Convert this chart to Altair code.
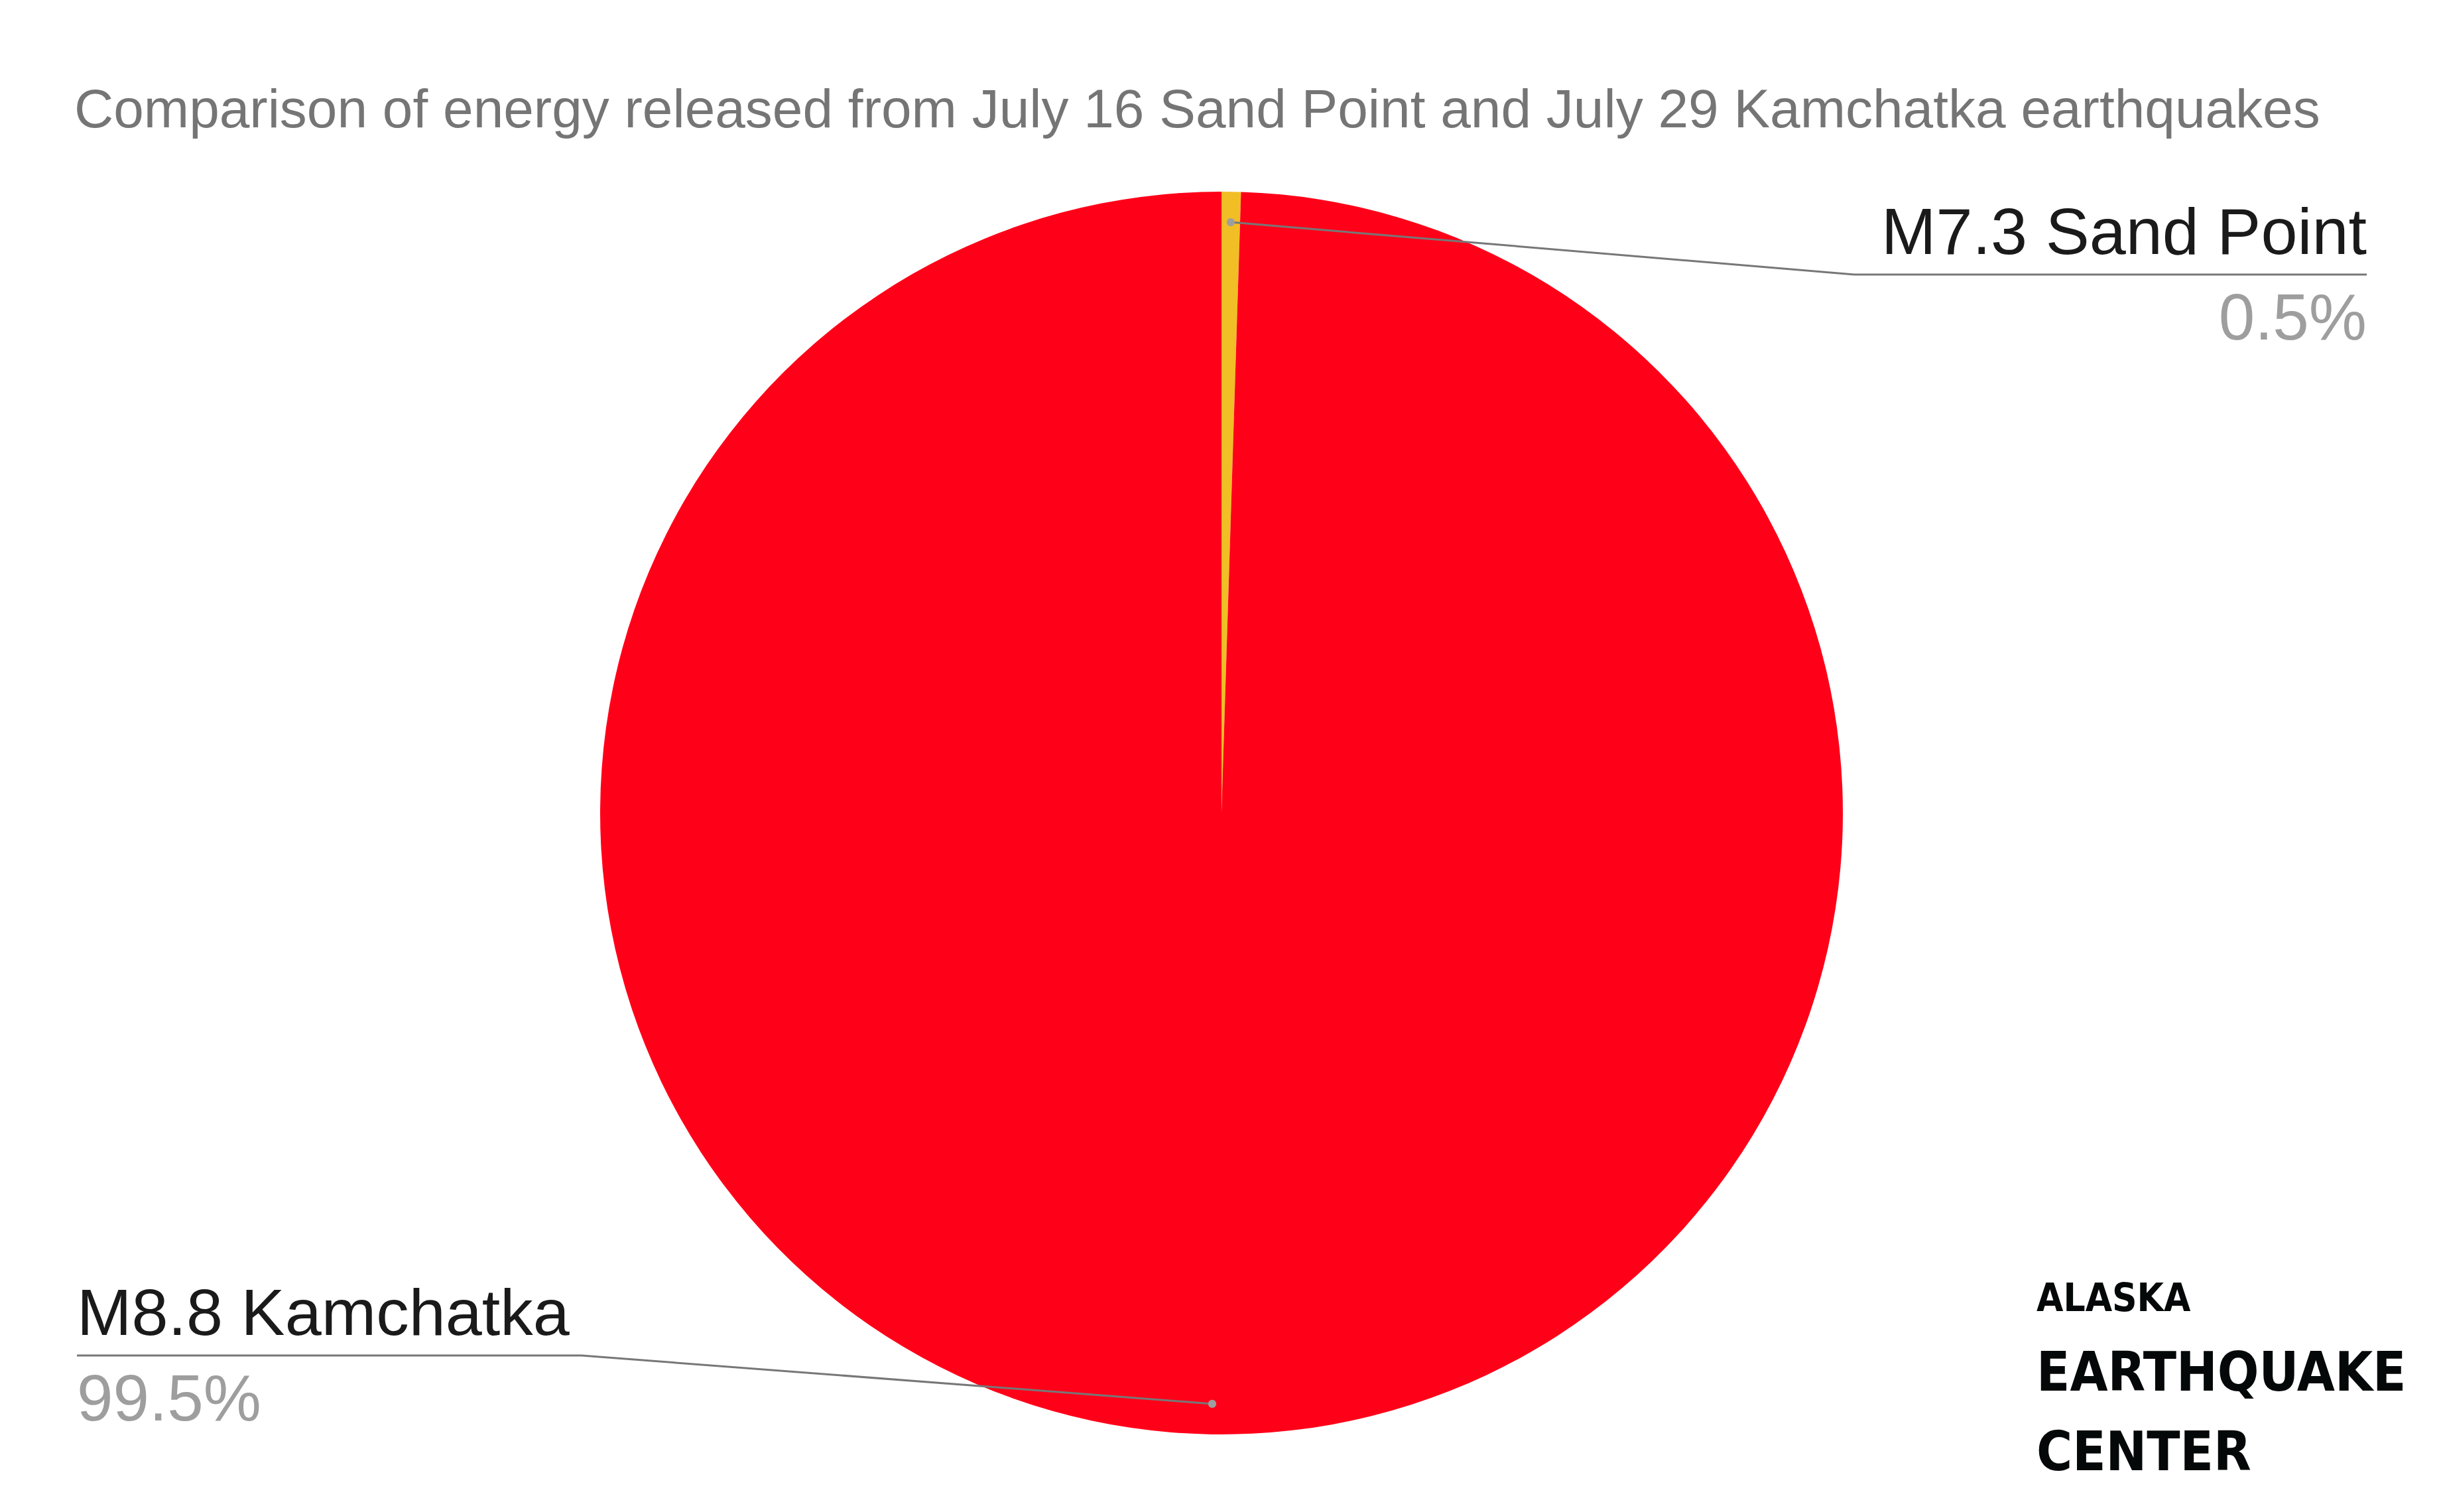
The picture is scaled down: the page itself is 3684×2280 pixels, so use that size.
import altair as alt
import pandas as pd

# ---- data ----
events = ["M7.3 Sand Point", "M8.8 Kamchatka"]
shares = [0.5, 99.5]
pct_labels = ["0.5%", "99.5%"]
colors = ["#F1BE25", "#FF0019"]

title_text = "Comparison of energy released from July 16 Sand Point and July 29 Kamchatka earthquakes"
logo_lines = ["ALASKA", "EARTHQUAKE", "CENTER"]

# ---- layout (chart pixel coordinates) ----
W, H = 3668, 2264
CX, CY = 1834, 1218
R = 937
R_DOT = 891
label_anchor_x = [3561, 108]
label_base_y = [375, 2005]
pct_base_y = [504, 2134]
under_y = [406, 2036]
under_start_x = [2788, 869]

df = pd.DataFrame({
    "event": events,
    "share": shares,
    "pct": pct_labels,
    "idx": list(range(len(events))),
    "lx": label_anchor_x,
    "ly": label_base_y,
    "py": pct_base_y,
    "uy": under_y,
    "ux0": under_start_x,
})

base = alt.Chart(df)

pie = base.mark_arc(radius=R).encode(
    theta=alt.Theta("share:Q", stack=True),
    color=alt.Color("event:N", scale=alt.Scale(domain=events, range=colors), legend=None),
    order=alt.Order("idx:Q"),
    x=alt.value(CX),
    y=alt.value(CY),
)

geo = base.transform_joinaggregate(
    total="sum(share)"
).transform_window(
    cum="sum(share)", sort=[alt.SortField("idx")]
).transform_calculate(
    mid="(datum.cum - datum.share/2) / datum.total * 2 * PI",
).transform_calculate(
    dx=f"{CX} + {R_DOT} * sin(datum.mid)",
    dy=f"{CY} - {R_DOT} * cos(datum.mid)",
)

leader = geo.mark_rule(color="#777777", strokeWidth=3).encode(
    x=alt.X("dx:Q", scale=None),
    y=alt.Y("dy:Q", scale=None),
    x2="ux0:Q",
    y2="uy:Q",
)

underline = base.mark_rule(color="#777777", strokeWidth=3).encode(
    x=alt.X("lx:Q", scale=None),
    x2="ux0:Q",
    y=alt.Y("uy:Q", scale=None),
)

dots = geo.mark_circle(size=150, color="#9E9E9E", opacity=1).encode(
    x=alt.X("dx:Q", scale=None),
    y=alt.Y("dy:Q", scale=None),
)

def labels(idx, align):
    sub = base.transform_filter(f"datum.idx == {idx}")
    name = sub.mark_text(align=align, baseline="alphabetic", font="Liberation Sans",
                         fontSize=99, color="#1A1A1A").encode(
        x=alt.X("lx:Q", scale=None), y=alt.Y("ly:Q", scale=None), text="event:N")
    pct = sub.mark_text(align=align, baseline="alphabetic", font="Liberation Sans",
                        fontSize=98, color="#9E9E9E").encode(
        x=alt.X("lx:Q", scale=None), y=alt.Y("py:Q", scale=None), text="pct:N")
    return name + pct

title = alt.Chart(pd.DataFrame({"t": [title_text]})).mark_text(
    align="left", baseline="alphabetic", font="Liberation Sans", fontSize=82, color="#757575"
).encode(x=alt.value(104), y=alt.value(184), text="t:N")

logo_df = pd.DataFrame({
    "t": logo_lines,
    "y": [1969, 2089, 2209],
    "s": [58, 82, 82],
})
logo = alt.Chart(logo_df).mark_text(
    align="left", baseline="alphabetic", font="DejaVu Sans Condensed", fontWeight="bold", color="#050808"
).encode(
    x=alt.value(3063),
    y=alt.Y("y:Q", scale=None),
    text="t:N",
    size=alt.Size("s:Q", scale=None, legend=None),
)

chart = alt.layer(
    pie, leader, underline, dots, labels(0, "right"), labels(1, "left"), title, logo
).properties(
    width=W, height=H,
    autosize=alt.AutoSizeParams(type="fit", contains="padding"),
    padding=0,
).configure(background="white").configure_view(stroke=None)

chart.save("out.html", embed_options={"renderer": "svg", "actions": False})
